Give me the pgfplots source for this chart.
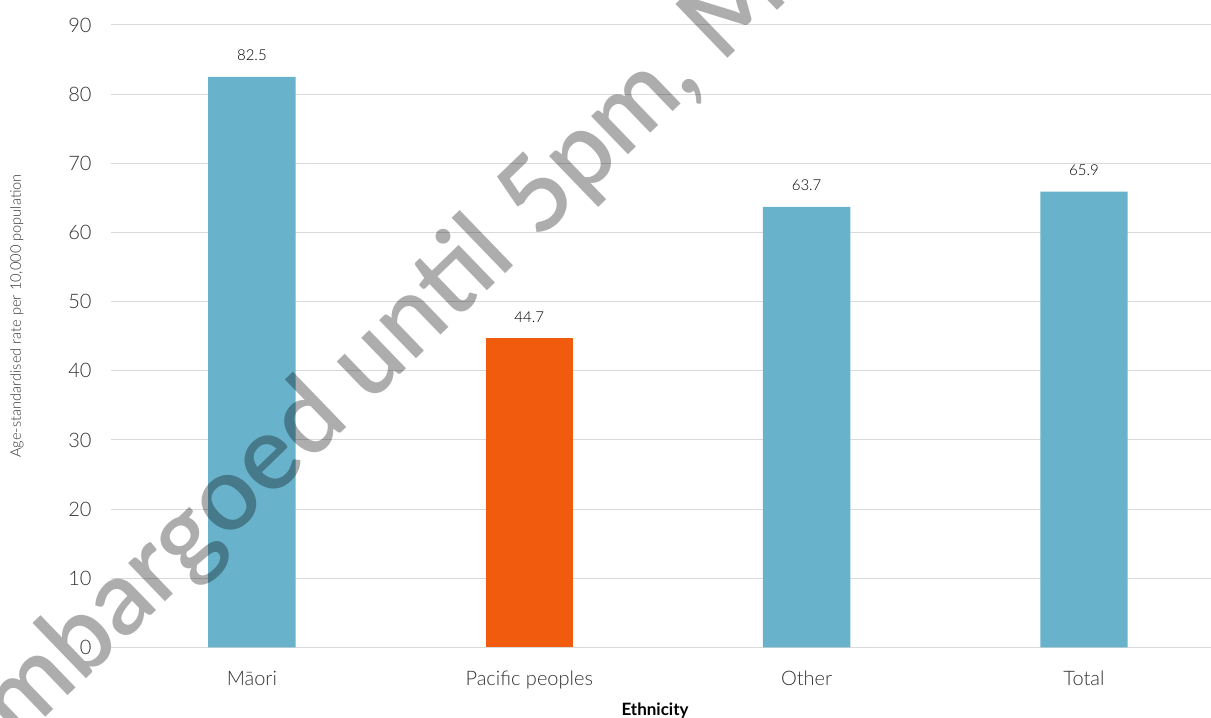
\documentclass[border=0pt]{standalone}
\usepackage{pgfplots}
\pgfplotsset{compat=1.18}
\usepackage{fontspec}
\setmainfont{Lato}[UprightFont=* Light, BoldFont=* Bold]
\newfontfamily\wmfont{Lato Semibold}
\definecolor{barblue}{RGB}{104,179,203}
\definecolor{barorange}{RGB}{240,91,14}
\definecolor{gridgray}{RGB}{217,217,217}
\definecolor{txt}{RGB}{50,50,50}
\begin{document}
\begin{tikzpicture}[x=1pt,y=1pt]
\begin{axis}[
  at={(111pt,70.5pt)}, anchor=south west,
  scale only axis, width=1139.4pt, height=622.5pt,
  xmin=-0.508, xmax=3.6, ymin=0, ymax=90,
  ytick={0,10,...,90},
  xtick={0,1,2,3},
  xticklabels={Māori, Pacific peoples, Other, Total},
  axis line style={draw=none},
  major tick length=0pt,
  ymajorgrids, grid style={gridgray, line width=1pt},
  /pgf/number format/assume math mode=true,
  yticklabel style={font=\fontsize{20}{22}\selectfont, text=txt, xshift=-16pt},
  xticklabel style={font=\fontsize{20}{22}\selectfont, text=txt, yshift=-20pt},
  ylabel={Age-standardised rate per 10,000 population},
  ylabel style={at={(axis description cs:-0.0825,0.5325)}, anchor=center, font=\fontsize{14.6}{16}\selectfont, text=txt},
  xlabel={\bfseries Ethnicity},
  xlabel style={at={(axis description cs:0.4775,0)}, anchor=base, yshift=-68pt, font=\fontsize{17}{19}\selectfont, text=black},
  ybar, bar width=87.4pt,
  nodes near coords,
  nodes near coords style={anchor=center, yshift=21.5pt, font=\fontsize{15}{17}\selectfont, text=black},
]
\addplot[fill=barblue, draw=none, bar shift=0pt] coordinates {(0,82.5) (2,63.7) (3,65.9)};
\addplot[fill=barorange, draw=none, bar shift=0pt] coordinates {(1,44.7)};
\end{axis}
\begin{scope}[every node/.style={rotate=44, font=\wmfont\fontsize{104}{104}\selectfont, text=black, text opacity=0.32, inner sep=0pt}]
\node[anchor=base east] at (538,476) {Embargoed until\kern0.26em};
\node[anchor=base west] at (538,476) {5pm, M};
\end{scope}
\pgfresetboundingbox
\path (0,0) rectangle (1211,718);
\end{tikzpicture}
\end{document}
